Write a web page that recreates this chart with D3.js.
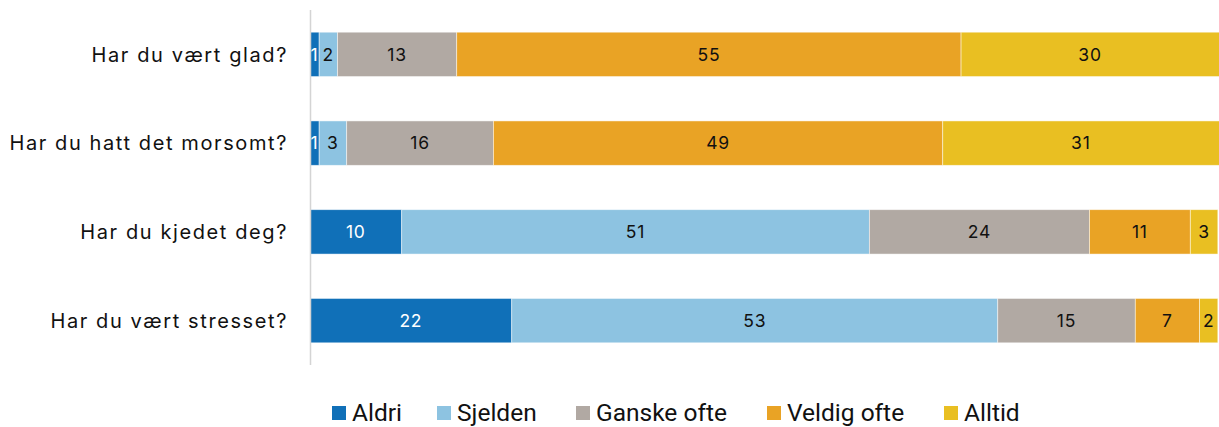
<!doctype html>
<html>
<head>
<meta charset='utf-8'>
<style>
  body { margin:0; background:#fff; }
  svg { display:block; }
</style>
</head>
<body>
<div id='chart'></div>
<script src='https://cdn.jsdelivr.net/npm/d3@7/dist/d3.min.js'></script>
<script>

const questions = ['Har du vært glad?', 'Har du hatt det morsomt?', 'Har du kjedet deg?', 'Har du vært stresset?'];
const answers = ['Aldri', 'Sjelden', 'Ganske ofte', 'Veldig ofte', 'Alltid'];
const aldri      = [1, 1, 10, 22];
const sjelden    = [2, 3, 51, 53];
const ganskeOfte = [13, 16, 24, 15];
const veldigOfte = [55, 49, 11, 7];
const alltid     = [30, 31, 3, 2];
const colors = ['#1070b8', '#8dc3e1', '#b1a9a3', '#e9a325', '#e9bf22'];
const textColors = ['#fff', '#111', '#111', '#111', '#111'];

const W = 1219, H = 427;
const series = [aldri, sjelden, ganskeOfte, veldigOfte, alltid];

// rows -> objects for d3.stack
const rows = questions.map((q, i) => {
  const r = {q: q};
  answers.forEach((a, j) => r[a] = series[j][i]);
  return r;
});
const stacked = d3.stack().keys(answers)(rows);

const x = d3.scaleLinear().domain([0, 100]).range([310, 1227]);
const y = d3.scaleBand().domain(questions).range([10, 365]).paddingInner(0.5).paddingOuter(0.25);

const svg = d3.select('#chart').append('svg')
  .attr('width', W).attr('height', H);

svg.append('defs').append('clipPath').attr('id', 'clip')
  .append('rect').attr('x', 0).attr('y', 0).attr('width', W).attr('height', H);

const plot = svg.append('g').attr('clip-path', 'url(#clip)');

const layers = plot.selectAll('.layer')
  .data(stacked)
  .enter().append('g')
  .attr('class', 'layer')
  .attr('fill', (d, i) => colors[i]);

layers.selectAll('rect')
  .data(d => d.map(v => ({v: v, q: v.data.q})))
  .enter().append('rect')
  .attr('x', d => x(d.v[0]))
  .attr('y', d => y(d.q))
  .attr('width', d => x(d.v[1]) - x(d.v[0]))
  .attr('height', y.bandwidth())
  .attr('stroke', '#fff')
  .attr('stroke-opacity', 0.6)
  .attr('stroke-width', 0.8);

layers.each(function(layer, i){
  d3.select(this).selectAll('text')
    .data(layer)
    .enter().append('text')
    .attr('x', d => (x(d[0]) + Math.min(x(d[1]), W)) / 2)
    .attr('y', d => y(d.data.q) + y.bandwidth() / 2)
    .attr('dy', '0.36em')
    .attr('text-anchor', 'middle')
    .attr('fill', textColors[i])
    .style('font-family', 'Inter, "Noto Sans", sans-serif')
    .style('font-size', '17.5px')
    .style('letter-spacing', '0.8px')
    .text(d => d[1] - d[0]);
});

// category axis
svg.append('line')
  .attr('x1', 310.5).attr('x2', 310.5)
  .attr('y1', 10).attr('y2', 365)
  .attr('stroke', '#d4d4d4').attr('stroke-width', 1.5);

svg.selectAll('.qlabel')
  .data(questions)
  .enter().append('text')
  .attr('class', 'qlabel')
  .attr('x', 288)
  .attr('y', d => y(d) + y.bandwidth() / 2)
  .attr('dy', '0.36em')
  .attr('text-anchor', 'end')
  .attr('fill', '#111')
  .style('font-family', 'Inter, "Noto Sans", sans-serif')
  .style('font-size', '20px')
  .style('letter-spacing', '1.6px')
  .text(d => d);

// legend
const legendX = [332, 437, 576, 767, 944];
const legend = svg.selectAll('.leg')
  .data(answers)
  .enter().append('g')
  .attr('class', 'leg')
  .attr('transform', (d, i) => `translate(${legendX[i]}, 406)`);
legend.append('rect')
  .attr('width', 14).attr('height', 14)
  .attr('fill', (d, i) => colors[i]);
legend.append('text')
  .attr('x', 20).attr('y', 14.5)
  .attr('fill', '#111')
  .style('font-family', '"Liberation Sans Narrow", "Roboto", sans-serif')
  .style('font-size', '24.5px')
  .text(d => d);

</script>
</body>
</html>
